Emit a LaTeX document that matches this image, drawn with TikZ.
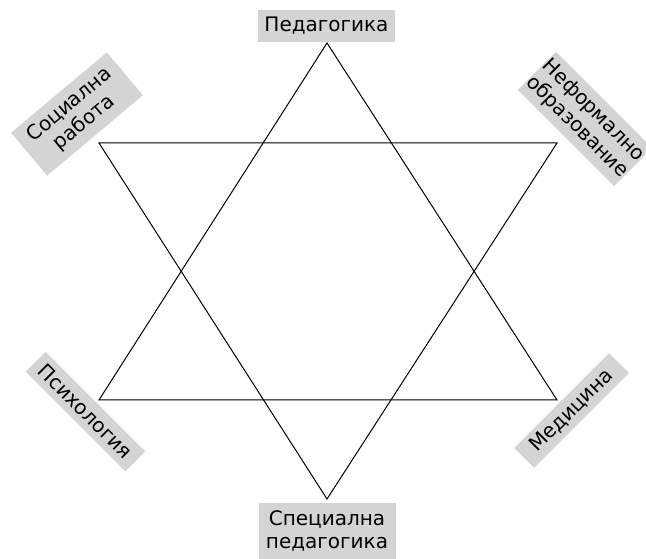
\documentclass[tikz,border=0pt]{standalone}
\usepackage{fontspec}
\setmainfont{DejaVu Sans}
\definecolor{lblgray}{RGB}{212,212,212}
\begin{document}
\begin{tikzpicture}[x=1pt,y=1pt,
  lbl/.style={fill=lblgray, inner sep=0pt, align=center,
    font=\fontsize{20}{23}\selectfont},
  edge/.style={draw=black, line width=1pt, line join=miter}]
\useasboundingbox (0,0) rectangle (646,559);
% vertices
\coordinate (A) at (327,516);
\coordinate (BL) at (99,159);
\coordinate (BR) at (557,159);
\coordinate (TL) at (99,416);
\coordinate (TR) at (557,416);
\coordinate (B) at (327,60);
\draw[edge] (A) -- (BR) -- (BL) -- cycle;
\draw[edge] (TL) -- (TR) -- (B) -- cycle;
% labels
\node[lbl, minimum width=137pt, minimum height=32pt] (ped) at (326.5,533) {Педагогика};
\node[lbl, minimum width=137pt, minimum height=56pt] (spec) at (327,28) {Специална\\педагогика};
\node[lbl, minimum width=125pt, minimum height=56pt, rotate=40] (soc) at (77,445) {Социална\\работа};
\node[lbl, minimum width=136pt, minimum height=54pt, rotate=-45] (nef) at (585,440) {Неформално\\образование};
\node[lbl, minimum width=141pt, minimum height=28pt, rotate=-45] (psy) at (85.5,147.5) {Психология};
\node[lbl, minimum width=134pt, minimum height=28pt, rotate=45] (med) at (571.5,148.5) {Медицина};
\end{tikzpicture}
\end{document}
